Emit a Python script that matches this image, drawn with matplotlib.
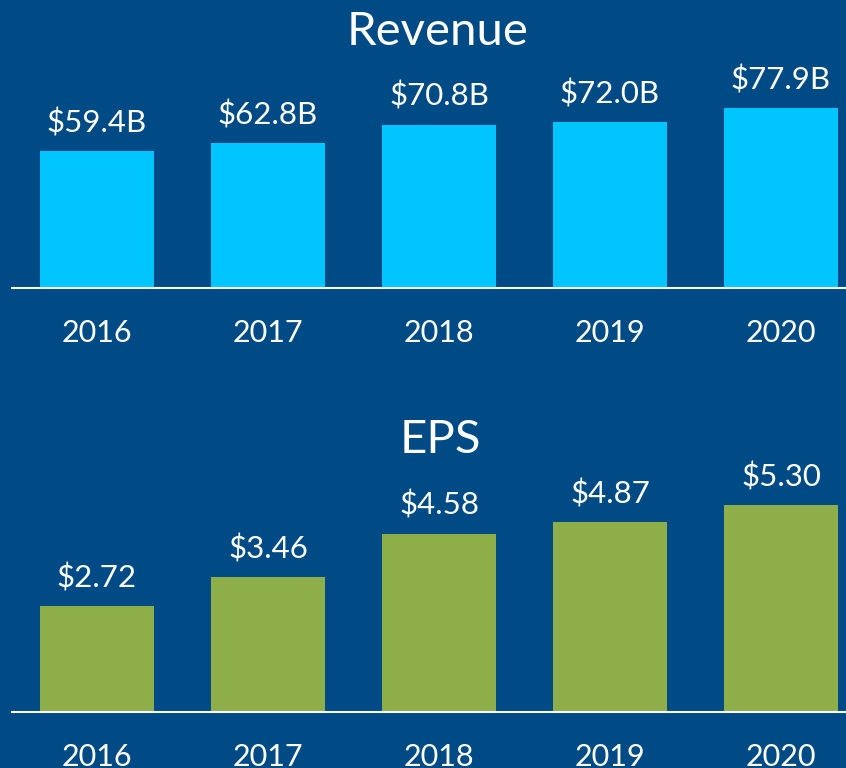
import matplotlib
matplotlib.use("Agg")
import matplotlib.pyplot as plt

plt.rcParams['font.family'] = ['Lato', 'DejaVu Sans']

years = ['2016', '2017', '2018', '2019', '2020']
revenue = [59.4, 62.8, 70.8, 72.0, 77.9]
revenue_labels = ['$59.4B', '$62.8B', '$70.8B', '$72.0B', '$77.9B']
eps = [2.72, 3.46, 4.58, 4.87, 5.30]
eps_labels = ['$2.72', '$3.46', '$4.58', '$4.87', '$5.30']

bg = '#004B85'
W, H = 846, 768
fig = plt.figure(figsize=(W / 100, H / 100), dpi=100, facecolor=bg)


def px_axes(left, top, right, bottom):
    # позиция осей в пикселях (от верхнего левого угла)
    return fig.add_axes([left / W, 1 - bottom / H, (right - left) / W, (bottom - top) / H])


def draw(ax, values, labels, color, ymax):
    x = range(len(values))
    ax.bar(x, values, width=0.667, color=color, zorder=2)
    for i, v in enumerate(values):
        ax.annotate(labels[i], (i, v), xytext=(0, 10), textcoords='offset points',
                    ha='center', va='bottom', color='white', fontsize=22.5)
    ax.set_xlim(-0.497, 4.38)
    ax.set_ylim(0, ymax)
    ax.set_facecolor(bg)
    for s in ['top', 'right', 'left']:
        ax.spines[s].set_visible(False)
    ax.spines['bottom'].set_color('white')
    ax.spines['bottom'].set_linewidth(1.5)
    ax.set_yticks([])
    ax.set_xticks(list(x))
    ax.set_xticklabels(years, color='white', fontsize=22)
    ax.tick_params(axis='x', length=0, pad=22)


ax1 = px_axes(12, 88, 846, 288)
draw(ax1, revenue, revenue_labels, '#00C5FF', 200 / 2.306)

ax2 = px_axes(12, 482, 846, 712)
draw(ax2, eps, eps_labels, '#8DAE48', 230 / 38.97)

fig.text(438 / W, 1 - 32 / H, 'Revenue', ha='center', va='center', color='white', fontsize=34)
fig.text(440 / W, 1 - 440 / H, 'EPS', ha='center', va='center', color='white', fontsize=34)

fig.savefig('out.png', dpi=100, facecolor=bg)
